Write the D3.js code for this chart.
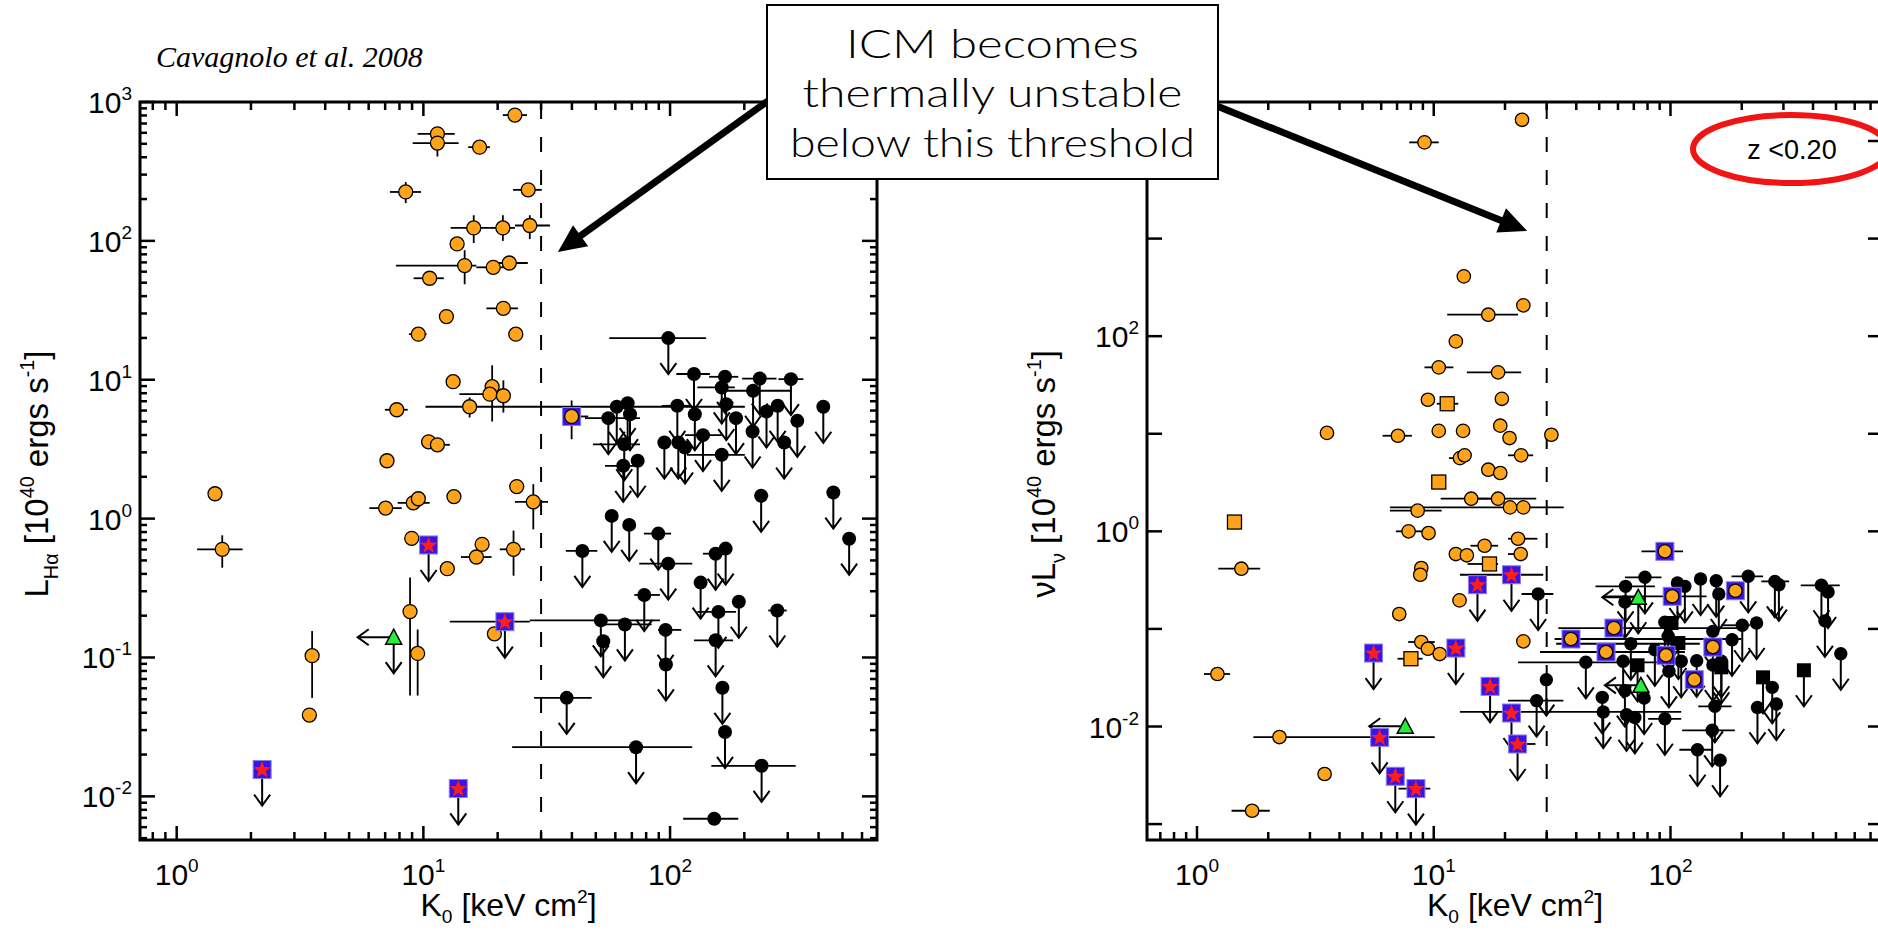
<!DOCTYPE html>
<html>
<head>
<meta charset="utf-8">
<script src="https://cdn.jsdelivr.net/npm/d3@7"></script>
<style>
  body { margin: 0; background: #fff; }
  svg { display: block; font-family: "Liberation Sans", Arial, Helvetica, sans-serif; }
  text { white-space: pre; }
</style>
</head>
<body>
<svg id="fig" width="1878" height="932"></svg>
<script>
////////////////////////////////////////////////////////////////////////
// Data, read off the two panels of Cavagnolo et al. 2008
// k = central entropy K0 [keV cm^2], l = luminosity [1e40 erg/s]
// k0/k1 = horizontal error range, l0/l1 = vertical error range
// ul = upper limit (down arrow), ll = limit on K0 (left arrow)

// tick labels (powers of ten)
const leftXExp = [0, 1, 2];
const leftYExp = [-2, -1, 0, 1, 2, 3];
const rightXExp = [0, 1, 2];
const rightYExp = [-2, 0, 2];
const thresholdK = 30;

// --- left panel: H-alpha luminosity
const haBlack = [
  {k:98.4,l:19.95,k0:56.7,k1:140,ul:1}, {k:125,l:11.0,k0:106,k1:145,ul:1},
  {k:167,l:10.5,k0:144,k1:189,ul:1}, {k:231,l:10.2,k0:196,k1:270,ul:1},
  {k:309,l:10.1,k0:275,k1:347,ul:1}, {k:162,l:8.8,k0:129,k1:183,ul:1},
  {k:217,l:8.33,k0:157,k1:311,ul:1}, {k:418,l:6.39,ul:1},
  {k:169,l:6.67,ul:1}, {k:273,l:6.49,ul:1}, {k:246,l:5.91,ul:1},
  {k:328,l:5.06,ul:1}, {k:216,l:4.24,ul:1}, {k:290,l:3.53,ul:1},
  {k:185,l:5.29,ul:1}, {k:126,l:5.65,ul:1}, {k:107,l:6.49,k0:92.5,k1:122,ul:1},
  {k:60.8,l:6.39,k0:30.2,k1:201,ul:1}, {k:67.3,l:6.78,ul:1}, {k:68.8,l:5.65,ul:1},
  {k:56.2,l:5.29,k0:45.2,k1:75.5,ul:1}, {k:65.2,l:3.43,k0:48.7,k1:75.5,ul:1},
  {k:64.6,l:2.40,k0:54.5,k1:75.5,ul:1}, {k:73.9,l:2.61,ul:1},
  {k:94.8,l:3.53,ul:1}, {k:108,l:3.53,ul:1}, {k:115,l:3.25,ul:1},
  {k:136,l:3.99,k0:115,k1:162,ul:1}, {k:162,l:2.88,k0:117,k1:201,ul:1},
  {k:44.1,l:0.585,k0:37.8,k1:50.7,ul:1}, {k:58.0,l:1.046,ul:1}, {k:68.3,l:0.901,ul:1},
  {k:89.6,l:0.780,k0:78.3,k1:101,ul:1}, {k:98.3,l:0.474,k0:75.0,k1:123,ul:1},
  {k:78.6,l:0.282,k0:71.6,k1:91.0,ul:1}, {k:133,l:0.346,ul:1},
  {k:153,l:0.559,k0:136,k1:171,ul:1}, {k:168,l:0.608,ul:1},
  {k:157,l:0.213,k0:129,k1:185,ul:1}, {k:190,l:0.252,ul:1},
  {k:272,l:0.218,k0:250,k1:297,ul:1}, {k:52.4,l:0.185,k0:27.0,k1:91.0,ul:1},
  {k:65.6,l:0.173,k0:54.5,k1:84.2,ul:1}, {k:53.6,l:0.131,ul:1},
  {k:95.9,l:0.158,k0:89.4,k1:111,ul:1}, {k:96.2,l:0.0891,ul:1},
  {k:153,l:0.133,k0:125,k1:180,ul:1}, {k:163,l:0.0605,ul:1}, {k:167,l:0.0291,ul:1},
  {k:38.1,l:0.0512,k0:28.1,k1:48.1,ul:1}, {k:72.8,l:0.0226,k0:22.9,k1:123,ul:1},
  {k:235,l:0.0166,k0:147,k1:323,ul:1}, {k:151,l:0.0069,k0:113,k1:189},
  {k:234,l:1.46,k0:221,k1:250,ul:1}, {k:459,l:1.54,ul:1}, {k:532,l:0.717,ul:1}
];

const haOrange = [
  {k:23.5,l:805,k0:21.0,k1:26.3}, {k:11.4,l:590,k0:9.48,k1:13.4},
  {k:11.4,l:506,k0:9.05,k1:13.9,l0:405,l1:620}, {k:16.9,l:473,k0:15.2,k1:18.6},
  {k:8.48,l:225,k0:7.32,k1:9.78,l0:187,l1:265}, {k:26.6,l:233,k0:23.1,k1:30.2},
  {k:16.0,l:124,k0:12.9,k1:18.6,l0:96.6,l1:153}, {k:21.0,l:124,k0:18.6,k1:23.5,l0:100,l1:153},
  {k:27.0,l:129,k0:23.5,k1:32.6,l0:103,l1:153}, {k:13.7,l:95},
  {k:14.7,l:66.4,k0:7.74,k1:16.4,l0:48.7,l1:85.6}, {k:19.2,l:64.5,k0:16.4,k1:21.4},
  {k:22.3,l:69.3,k0:19.6,k1:26.5}, {k:10.6,l:53.8,k0:9.13,k1:12.1},
  {k:21.1,l:32.7,k0:18.0,k1:24.2}, {k:12.4,l:28.5}, {k:9.54,l:21.3,k0:8.74,k1:10.3},
  {k:23.7,l:21.3}, {k:13.2,l:9.68}, {k:19.0,l:8.91,l0:5.0,l1:12.7},
  {k:18.6,l:7.87,k0:14.0,k1:21.4}, {k:21.1,l:7.67,l0:5.8,l1:9.9},
  {k:15.4,l:6.39,k0:10.2,k1:30.2,l0:5.35,l1:7.45}, {k:7.80,l:6.08,k0:6.98,k1:8.64},
  {k:10.5,l:3.57}, {k:11.4,l:3.40,k0:10.6,k1:12.8}, {k:7.12,l:2.61},
  {k:1.43,l:1.51}, {k:1.53,l:0.601,k0:1.21,k1:1.85,l0:0.443,l1:0.758},
  {k:7.03,l:1.19,k0:6.04,k1:8.17}, {k:9.10,l:1.30,k0:7.87,k1:10.6},
  {k:9.54,l:1.39}, {k:13.3,l:1.44}, {k:8.97,l:0.721}, {k:12.5,l:0.436},
  {k:16.4,l:0.529,k0:14.2,k1:18.9}, {k:17.3,l:0.653},
  {k:23.2,l:0.601,k0:20.4,k1:25.8,l0:0.388,l1:0.82},
  {k:8.83,l:0.214,l0:0.0532,l1:0.376}, {k:9.48,l:0.107,l0:0.0532,l1:0.159},
  {k:3.54,l:0.103,l0:0.0512,l1:0.155}, {k:3.45,l:0.0385}, {k:19.4,l:0.148},
  {k:23.9,l:1.70}, {k:27.9,l:1.32,k0:23.5,k1:32.0,l0:0.837,l1:1.77}
];

const haOrangeBox = [{k:39.9,l:5.44,k0:37.5,k1:46.6,l0:3.73,l1:7.09}];

const haStar = [
  {k:10.5,l:0.646,ul:1}, {k:2.22,l:0.0156,ul:1}, {k:13.85,l:0.0114,ul:1},
  {k:21.4,l:0.181,k0:12.8,k1:27.0,ul:1}
];

const haTriangle = [{k:7.58,l:0.140,ll:1,ul:1}];

// --- right panel: radio luminosity nu L_nu
const nuBlack = [
  {k:27.6,l:0.228,k0:23.5,k1:32.0,ul:1}, {k:29.9,l:0.0302,ul:1},
  {k:27.2,l:0.0184,k0:20.6,k1:35.3,ul:1}, {k:64.6,l:0.273,k0:48.2,k1:85.9,ul:1},
  {k:78.0,l:0.338,k0:64.2,k1:91.6,ul:1}, {k:64.2,l:0.189,ul:1},
  {k:107,l:0.295,ul:1}, {k:115,l:0.273,ul:1}, {k:134,l:0.325,ul:1},
  {k:156,l:0.312,ul:1}, {k:160,l:0.228,ul:1}, {k:213,l:0.346,k0:181,k1:246,ul:1},
  {k:276,l:0.307,k0:242,k1:317,ul:1}, {k:287,l:0.284,ul:1},
  {k:434,l:0.28,k0:355,k1:519,ul:1}, {k:463,l:0.239,ul:1}, {k:449,l:0.121,ul:1},
  {k:524,l:0.0557,ul:1}, {k:231,l:0.115,ul:1}, {k:201,l:0.109,k0:164,k1:217,ul:1},
  {k:151,l:0.0944,ul:1}, {k:182,l:0.0775,ul:1}, {k:68.0,l:0.0705,k0:32.9,k1:133,ul:1},
  {k:43.9,l:0.0455,k0:22.7,k1:104,ul:1}, {k:63.1,l:0.0466,ul:1},
  {k:85.9,l:0.0612,ul:1}, {k:97.8,l:0.084,ul:1}, {k:94.7,l:0.117,ul:1},
  {k:98.5,l:0.0368,ul:1}, {k:111,l:0.0466,ul:1}, {k:129,l:0.0472,ul:1},
  {k:151,l:0.0427,ul:1}, {k:164,l:0.0466,ul:1}, {k:64.2,l:0.0233,ul:1},
  {k:51.5,l:0.0199,ul:1}, {k:77.4,l:0.0196,ul:1}, {k:52.0,l:0.0141,k0:12.9,k1:111,ul:1},
  {k:65.2,l:0.0132,ul:1}, {k:70.7,l:0.0124,ul:1}, {k:94.7,l:0.012,k0:80.5,k1:111,ul:1},
  {k:154,l:0.0161,k0:131,k1:181,ul:1}, {k:233,l:0.0157,ul:1}, {k:280,l:0.017,ul:1},
  {k:269,l:0.0252,ul:1}, {k:150,l:0.00914,k0:112,k1:187,ul:1},
  {k:130,l:0.00578,k0:109,k1:151,ul:1}, {k:162,l:0.00451,ul:1}
];

const nuBlackSq = [
  {k:72.6,l:0.0424,ul:1}, {k:246,l:0.0319,ul:1}, {k:366,l:0.0377,ul:1},
  {k:108,l:0.0717,ul:1}, {k:101,l:0.115,ul:1}, {k:164,l:0.0404,ul:1}
];

const nuOrange = [
  {k:9.14,l:9680,k0:7.88,k1:10.5}, {k:23.6,l:16500}, {k:13.4,l:410},
  {k:17.0,l:166,k0:11.4,k1:22.7}, {k:23.9,l:207}, {k:12.4,l:88.4},
  {k:10.5,l:47.9,k0:9.14,k1:12.1}, {k:18.7,l:42.6,k0:13.8,k1:23.4},
  {k:9.45,l:22.3}, {k:19.4,l:22.8}, {k:3.54,l:10.2}, {k:7.06,l:9.54,k0:6.08,k1:8.09},
  {k:10.5,l:10.7}, {k:13.3,l:10.7}, {k:19.1,l:12.1}, {k:20.9,l:9.04}, {k:31.4,l:9.77},
  {k:23.4,l:6.01,k0:20.6,k1:26.3}, {k:12.9,l:5.63,k0:11.6,k1:14.0}, {k:13.5,l:6.01},
  {k:17.0,l:4.28}, {k:19.1,l:3.96}, {k:1.54,l:0.414,k0:1.23,k1:1.85},
  {k:1.22,l:0.0345,k0:1.07,k1:1.38}, {k:2.23,l:0.0078,k0:1.73,k1:10.1},
  {k:3.46,l:0.00326}, {k:1.71,l:0.00137,k0:1.40,k1:2.03},
  {k:14.4,l:2.16,k0:10.7,k1:18.7}, {k:18.7,l:2.16,k0:14.3,k1:27.1},
  {k:8.55,l:1.63,k0:6.53,k1:10.8}, {k:21.0,l:1.76}, {k:23.9,l:1.76,k0:6.53,k1:35.4},
  {k:7.83,l:1.0,k0:6.92,k1:8.92}, {k:9.51,l:0.96}, {k:22.7,l:0.84,k0:20.6,k1:27.4},
  {k:16.4,l:0.712,k0:14.3,k1:18.7}, {k:23.3,l:0.585,k0:20.6,k1:24.8},
  {k:12.4,l:0.585}, {k:13.8,l:0.568}, {k:8.86,l:0.421}, {k:8.77,l:0.359},
  {k:12.85,l:0.196}, {k:7.15,l:0.142}, {k:8.86,l:0.0734,k0:7.80,k1:10.1},
  {k:9.45,l:0.0627}, {k:10.6,l:0.0553}, {k:23.9,l:0.0746}
];

const nuOrangeSq = [
  {k:11.4,l:20.3,k0:10.3,k1:12.7}, {k:1.44,l:1.245}, {k:10.5,l:3.20},
  {k:17.2,l:0.463,k0:13.9,k1:18.7}, {k:8.01,l:0.0495,k0:7.03,k1:8.97}
];

const nuOrangeBox = [
  {k:94.7,l:0.624,k0:75.4,k1:113}, {k:101.7,l:0.216,k0:52,k1:142}, {k:188,l:0.246},
  {k:57.7,l:0.102,k0:33.6,k1:206}, {k:38.0,l:0.0788,k0:32.4,k1:199},
  {k:53.4,l:0.058,k0:28.1,k1:115}, {k:95.7,l:0.0537}, {k:151,l:0.0652}, {k:126,l:0.0302}
];

const nuStar = [
  {k:21.3,l:0.359,k0:12.9,k1:29.0,ul:1}, {k:15.3,l:0.284,ul:1}, {k:5.57,l:0.0566,ul:1},
  {k:12.4,l:0.0637,k0:11.5,k1:13.6,ul:1}, {k:17.3,l:0.0258,ul:1},
  {k:5.91,l:0.00775,ul:1}, {k:6.88,l:0.00309,ul:1},
  {k:8.41,l:0.00231,k0:7.10,k1:9.67,ul:1}, {k:21.3,l:0.01375,ul:1},
  {k:22.6,l:0.00662,k0:20.6,k1:26.9,ul:1}
];

const nuTriangle = [
  {k:7.58,l:0.01005,ll:1}, {k:73.1,l:0.211,ll:1,ul:1}, {k:75.0,l:0.0264,ll:1}
];

////////////////////////////////////////////////////////////////////////
// Colours and scales

const ORANGE = "#ffa31a", BLUE = "#3a14e4", RED = "#ff1c1c", GREEN = "#26ee3a";

const xL = d3.scaleLog().domain([0.71, 690]).range([140, 877]);
const yL = d3.scaleLog().domain([0.00485, 1000]).range([840, 102]);
const xR = d3.scaleLog().domain([0.615, 790]).range([1147, 1883]);
const yR = d3.scaleLog().domain([0.000687, 25100]).range([840, 102]);

const svg = d3.select("#fig");

// rich text with sub / superscripts
function rich(t, parts, fs, subShift) {
  let shift = 0;
  parts.forEach(([s, m]) => {
    const target = m === "sub" ? fs * subShift : m === "sup" ? -fs * 0.42 : 0;
    t.append("tspan")
      .attr("dy", target - shift)
      .style("font-size", (m ? fs * 0.6 : fs) + "px")
      .text(s);
    shift = target;
  });
}

function powText(g, x, y, e, anchor) {
  const t = g.append("text").attr("x", x).attr("y", y)
    .attr("text-anchor", anchor).style("font-size", "30px");
  t.append("tspan").text("10");
  t.append("tspan").attr("dy", -13).style("font-size", "19px").text(e);
}

// tick values inside the domain, majors = powers of ten
function decadeTicks(scale, minor) {
  const [a, b] = scale.domain();
  const out = [];
  for (let e = Math.floor(Math.log10(a)); e <= Math.ceil(Math.log10(b)); e++) {
    (minor ? [2, 3, 4, 5, 6, 7, 8, 9] : [1]).forEach(m => {
      const v = m * Math.pow(10, e);
      if (v >= a * 0.999 && v <= b * 1.001) out.push(v);
    });
  }
  return out;
}

function starPath(ro, ri) {
  let p = "";
  for (let i = 0; i < 10; i++) {
    const r = i % 2 ? ri : ro, a = -Math.PI / 2 + i * Math.PI / 5;
    p += (i ? "L" : "M") + (r * Math.cos(a)).toFixed(2) + "," + (r * Math.sin(a)).toFixed(2);
  }
  return p + "Z";
}

////////////////////////////////////////////////////////////////////////
// Panel drawing

function drawPanel(cfg) {
  const x = cfg.x, y = cfg.y;
  const [xa, xb] = x.range(), [yb, ya] = y.range();
  const g = svg.append("g");

  // ticks on all four sides
  const tk = g.append("g").attr("stroke", "#000").attr("stroke-width", 2.5);
  function xt(vals, len) {
    vals.forEach(v => {
      tk.append("line").attr("x1", x(v)).attr("x2", x(v)).attr("y1", yb).attr("y2", yb - len);
      tk.append("line").attr("x1", x(v)).attr("x2", x(v)).attr("y1", ya).attr("y2", ya + len);
    });
  }
  function yt(vals, len) {
    vals.forEach(v => {
      tk.append("line").attr("y1", y(v)).attr("y2", y(v)).attr("x1", xa).attr("x2", xa + len);
      tk.append("line").attr("y1", y(v)).attr("y2", y(v)).attr("x1", xb).attr("x2", xb - len);
    });
  }
  xt(decadeTicks(x, false), 14);
  xt(decadeTicks(x, true), 8);
  yt(decadeTicks(y, false), 15);
  if (cfg.yMinor) yt(decadeTicks(y, true), 7);

  g.append("rect").attr("x", xa).attr("y", ya)
    .attr("width", xb - xa).attr("height", yb - ya)
    .attr("fill", "none").attr("stroke", "#000").attr("stroke-width", 3);

  // tick labels
  cfg.xExp.forEach(e => powText(g, x(Math.pow(10, e)), 885, e, "middle"));
  cfg.yExp.forEach(e => powText(g, xa - 8, y(Math.pow(10, e)) + 11, e, "end"));

  // axis titles
  rich(g.append("text").attr("x", (xa + xb) / 2).attr("y", 916).attr("text-anchor", "middle"),
       [["K", null], ["0", "sub"], [" [keV cm", null], ["2", "sup"], ["]", null]], 32, 0.22);
  rich(g.append("text").attr("text-anchor", "middle")
        .attr("transform", "translate(" + cfg.titleX + ",474) rotate(-90)"),
       cfg.yTitle, 33, 0.3);

  // threshold line
  g.append("line").attr("x1", x(thresholdK)).attr("x2", x(thresholdK))
    .attr("y1", ya + 2).attr("y2", yb - 2)
    .attr("stroke", "#000").attr("stroke-width", 2).attr("stroke-dasharray", "15,18");

  const all = cfg.series.flatMap(s => s.data);

  // error bars
  const eb = g.append("g").attr("stroke", "#000").attr("stroke-width", 1.8);
  all.forEach(d => {
    if (d.k0) eb.append("line").attr("x1", x(d.k0)).attr("x2", x(d.k1)).attr("y1", y(d.l)).attr("y2", y(d.l));
    if (d.l0) eb.append("line").attr("x1", x(d.k)).attr("x2", x(d.k)).attr("y1", y(d.l0)).attr("y2", y(d.l1));
  });

  // limit arrows
  const ar = g.append("g").attr("stroke", "#000").attr("stroke-width", 2).attr("fill", "none");
  const len = 36;
  all.forEach(d => {
    const cx = x(d.k), cy = y(d.l);
    if (d.ul) {
      ar.append("line").attr("x1", cx).attr("x2", cx).attr("y1", cy).attr("y2", cy + len);
      ar.append("path").attr("d", `M${cx - 8},${cy + len - 11}L${cx},${cy + len}L${cx + 8},${cy + len - 11}`);
    }
    if (d.ll) {
      ar.append("line").attr("x1", cx).attr("x2", cx - len).attr("y1", cy).attr("y2", cy);
      ar.append("path").attr("d", `M${cx - len + 11},${cy - 8}L${cx - len},${cy}L${cx - len + 11},${cy + 8}`);
    }
  });

  // markers
  const r = cfg.r;
  cfg.series.forEach(s => {
    const mg = g.append("g");
    s.data.forEach(d => {
      const cx = x(d.k), cy = y(d.l);
      if (s.type === "black") {
        mg.append("circle").attr("cx", cx).attr("cy", cy).attr("r", r).attr("fill", "#000");
      } else if (s.type === "blackSq") {
        mg.append("rect").attr("x", cx - 7).attr("y", cy - 7).attr("width", 14).attr("height", 14).attr("fill", "#000");
      } else if (s.type === "orange") {
        mg.append("circle").attr("cx", cx).attr("cy", cy).attr("r", r)
          .attr("fill", ORANGE).attr("stroke", "#000").attr("stroke-width", 1.3);
      } else if (s.type === "orangeSq") {
        mg.append("rect").attr("x", cx - 7).attr("y", cy - 7).attr("width", 14).attr("height", 14)
          .attr("fill", ORANGE).attr("stroke", "#000").attr("stroke-width", 1.3);
      } else if (s.type === "orangeBox" || s.type === "star") {
        mg.append("rect").attr("x", cx - 9).attr("y", cy - 9).attr("width", 18).attr("height", 18)
          .attr("fill", BLUE).attr("stroke", "#8a7cf2").attr("stroke-width", 1);
        if (s.type === "star") {
          mg.append("path").attr("d", starPath(9, 3.8))
            .attr("transform", `translate(${cx},${cy + 0.5})`).attr("fill", RED);
        } else {
          mg.append("circle").attr("cx", cx).attr("cy", cy).attr("r", r)
            .attr("fill", ORANGE).attr("stroke", "#000").attr("stroke-width", 1.3);
        }
      } else if (s.type === "tri") {
        mg.append("path").attr("d", `M${cx},${cy - 8}L${cx + 8},${cy + 7}L${cx - 8},${cy + 7}Z`)
          .attr("fill", GREEN).attr("stroke", "#000").attr("stroke-width", 1.5);
      }
    });
  });
}

drawPanel({
  x: xL, y: yL, r: 7, yMinor: true,
  xExp: leftXExp, yExp: leftYExp, titleX: 48,
  yTitle: [["L", null], ["H\u03b1", "sub"], [" [10", null], ["40", "sup"],
           [" ergs s", null], ["-1", "sup"], ["]", null]],
  series: [
    {type: "black", data: haBlack},
    {type: "orange", data: haOrange},
    {type: "orangeBox", data: haOrangeBox},
    {type: "star", data: haStar},
    {type: "tri", data: haTriangle}
  ]
});

drawPanel({
  x: xR, y: yR, r: 6.7, yMinor: false,
  xExp: rightXExp, yExp: rightYExp, titleX: 1055,
  yTitle: [["\u03bdL", null], ["\u03bd", "sub"], [" [10", null], ["40", "sup"],
           [" ergs s", null], ["-1", "sup"], ["]", null]],
  series: [
    {type: "black", data: nuBlack},
    {type: "blackSq", data: nuBlackSq},
    {type: "orange", data: nuOrange},
    {type: "orangeSq", data: nuOrangeSq},
    {type: "orangeBox", data: nuOrangeBox},
    {type: "star", data: nuStar},
    {type: "tri", data: nuTriangle}
  ]
});

////////////////////////////////////////////////////////////////////////
// Annotations

svg.append("text").attr("x", 156).attr("y", 67)
  .style("font-family", "'Liberation Serif', 'Times New Roman', serif")
  .style("font-style", "italic").style("font-size", "30px")
  .text("Cavagnolo et al. 2008");

// thick callout arrows pointing at the threshold
function fatArrow(x1, y1, x2, y2) {
  const dx = x2 - x1, dy = y2 - y1, L = Math.hypot(dx, dy), ux = dx / L, uy = dy / L;
  const hl = 28, hw = 13;
  const bx = x2 - ux * hl, by = y2 - uy * hl;
  svg.append("line").attr("x1", x1).attr("y1", y1).attr("x2", bx + ux * 2).attr("y2", by + uy * 2)
    .attr("stroke", "#000").attr("stroke-width", 7);
  svg.append("path")
    .attr("d", `M${x2},${y2}L${bx - uy * hw},${by + ux * hw}L${bx + uy * hw},${by - ux * hw}Z`)
    .attr("fill", "#000");
}
fatArrow(772, 98, xL(35.1), yL(83));
fatArrow(1212, 104, xR(24.8), yR(1200));

svg.append("rect").attr("x", 767).attr("y", 5).attr("width", 451).attr("height", 174)
  .attr("fill", "#fff").attr("stroke", "#000").attr("stroke-width", 2);
const calloutLines = ["ICM becomes", "thermally unstable", "below this threshold"];
const calloutW = [293, 380, 405];
const calloutY = [58, 107, 157];
calloutLines.forEach((s, i) => {
  svg.append("text").attr("x", 992.5).attr("y", calloutY[i]).attr("text-anchor", "middle")
    .attr("textLength", calloutW[i]).attr("lengthAdjust", "spacingAndGlyphs")
    .style("font-family", "Lato, 'Open Sans', sans-serif").style("font-weight", 300)
    .style("font-size", "40px")
    .text(s);
});

svg.append("ellipse").attr("cx", 1791).attr("cy", 149).attr("rx", 98).attr("ry", 34)
  .attr("fill", "none").attr("stroke", "#f01414").attr("stroke-width", 6);
svg.append("text").attr("x", 1792).attr("y", 159).attr("text-anchor", "middle")
  .style("font-size", "27px").text("z <0.20");
</script>
</body>
</html>
